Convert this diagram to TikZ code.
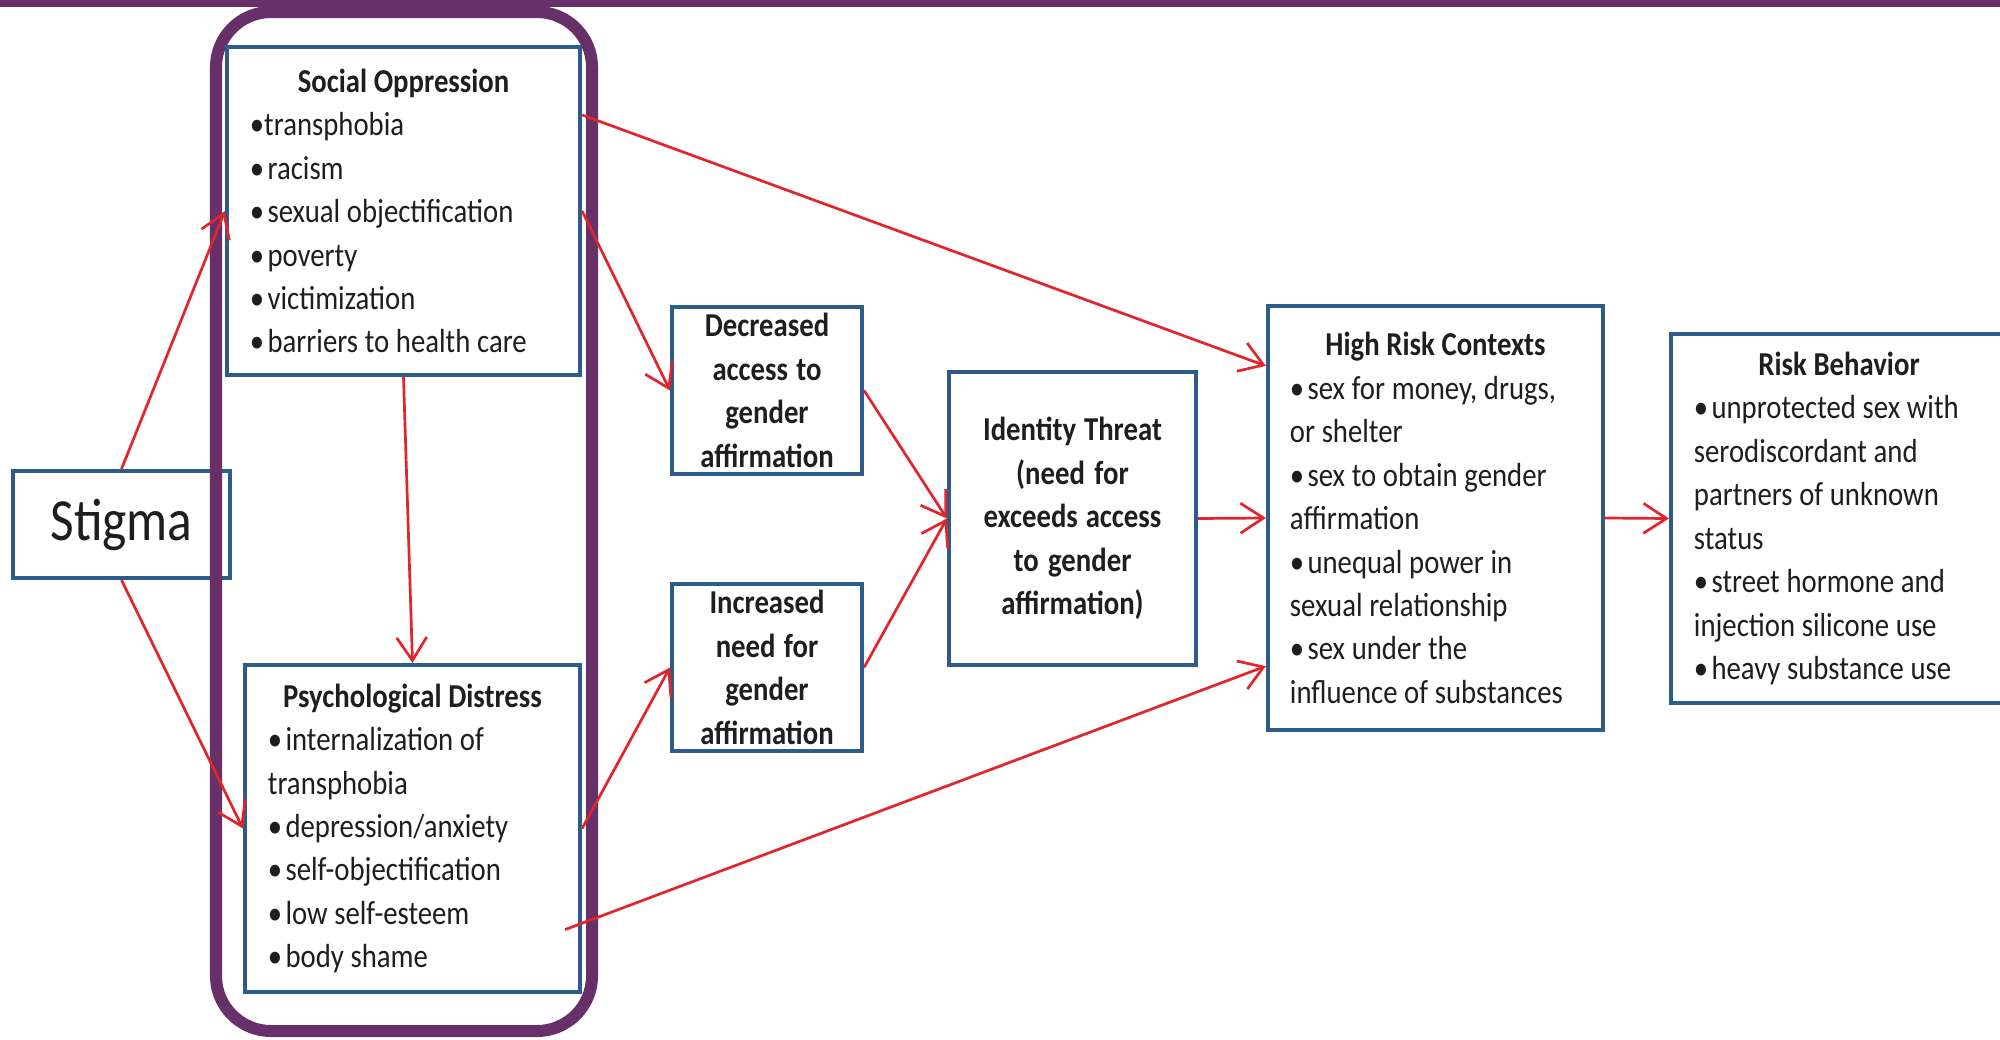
\documentclass[tikz,border=0pt]{standalone}
\usepackage{fontspec}
\setmainfont{Carlito}[FakeStretch=0.86]
\usetikzlibrary{arrows.meta}
\definecolor{boxblue}{RGB}{46,92,138}
\definecolor{ringpurple}{RGB}{103,48,104}
\definecolor{arrowred}{RGB}{226,37,42}
\definecolor{inktext}{RGB}{30,30,30}
\newcommand{\itemdot}{•\hspace{0.1em}}
\newcommand{\boxfont}{\fontsize{9.5}{12.35}\selectfont}

\begin{document}
\begin{tikzpicture}[x=0.01cm, y=-0.01cm,
    box/.style={draw=boxblue, line width=0.04cm, fill=white, inner xsep=0.23cm, inner ysep=0pt,
      text=inktext, font=\boxfont, execute at begin node={\spaceskip=0.2em plus 0.1em\relax}},
    listbox/.style={box, align=left},
    midbox/.style={box, align=center, inner xsep=0.1cm, font=\boxfont\bfseries},
    link/.style={draw=arrowred, line width=0.027cm, -{Straight Barb[length=0.23cm, width=0.3cm]}}]
    % frame of the picture
    \useasboundingbox (0,0) rectangle (2000,1039);
    \fill[white] (0,0) rectangle (2000,1039);
    \fill[ringpurple] (0,0) rectangle (2000,7);
    % draw the stigma box, under the ring
    \node[box, minimum width=2.17cm, minimum height=1.07cm, inner xsep=0pt,
      font=\fontsize{17}{20}\selectfont] (stigma) at (121.5,524.5) {Stigma};
    % draw the ring
    \draw[ringpurple, line width=0.12cm, rounded corners=0.55cm] (216,12) rectangle (592,1031);
    % draw the boxes
    \node[listbox, text width=3.07cm, minimum width=3.53cm, minimum height=3.28cm] (oppr) at (403.5,211) {%
      \makebox[\linewidth]{\bfseries Social Oppression}\\
      •transphobia\\
      \itemdot racism\\
      \itemdot sexual objectification\\
      \itemdot poverty\\
      \itemdot victimization\\
      \itemdot barriers to health care};
    \node[listbox, text width=2.89cm, minimum width=3.35cm, minimum height=3.27cm] (distr) at (412.5,828.5) {%
      \makebox[\linewidth]{\bfseries Psychological Distress}\\
      \itemdot internalization of\\
      transphobia\\
      \itemdot depression/anxiety\\
      \itemdot self-objectification\\
      \itemdot low self-esteem\\
      \itemdot body shame};
    \node[midbox, text width=1.7cm, minimum width=1.9cm, minimum height=1.67cm] (decr) at (767,390.5)
      {Decreased\\access to\\gender\\affirmation};
    \node[midbox, text width=1.7cm, minimum width=1.9cm, minimum height=1.67cm] (incr) at (767,667.5)
      {Increased\\need for\\gender\\affirmation};
    \node[midbox, text width=2.27cm, minimum width=2.47cm, minimum height=2.93cm] (threat) at (1072.5,518.5)
      {Identity Threat\\(need for\\exceeds access\\to gender\\affirmation)};
    \node[listbox, text width=2.91cm, minimum width=3.35cm, minimum height=4.24cm, inner xsep=0.22cm] (ctx) at (1435.5,518) {%
      \makebox[\linewidth]{\bfseries High Risk Contexts}\\
      \itemdot sex for money, drugs,\\
      or shelter\\
      \itemdot sex to obtain gender\\
      affirmation\\
      \itemdot unequal power in\\
      sexual relationship\\
      \itemdot sex under the\\
      influence of substances};
    \node[listbox, text width=2.9cm, minimum width=3.36cm, minimum height=3.69cm] (behav) at (1839,518.5) {%
      \makebox[\linewidth]{\bfseries Risk Behavior}\\
      \itemdot unprotected sex with\\
      serodiscordant and\\
      partners of unknown\\
      status\\
      \itemdot street hormone and\\
      injection silicone use\\
      \itemdot heavy substance use};
    % draw the arrows
    \draw[link] (stigma.north) -- (oppr.west);
    \draw[link] (stigma.south) -- (distr.west);
    \draw[link] (oppr.south) -- (distr.north);
    \draw[link] (oppr.east) -- (decr.west);
    \draw[link] ([yshift=0.96cm]oppr.east) -- ([yshift=1.52cm]ctx.west);
    \draw[link] (distr.east) -- (incr.west);
    \draw[link] ([xshift=-0.17cm,yshift=-1.01cm]distr.east) -- ([yshift=-1.48cm]ctx.west);
    \draw[link] (decr.east) -- (threat.west);
    \draw[link] (incr.east) -- (threat.west);
    \draw[link] (threat.east) -- (ctx.west);
    \draw[link] (ctx.east) -- (behav.west);
\end{tikzpicture}
\end{document}
